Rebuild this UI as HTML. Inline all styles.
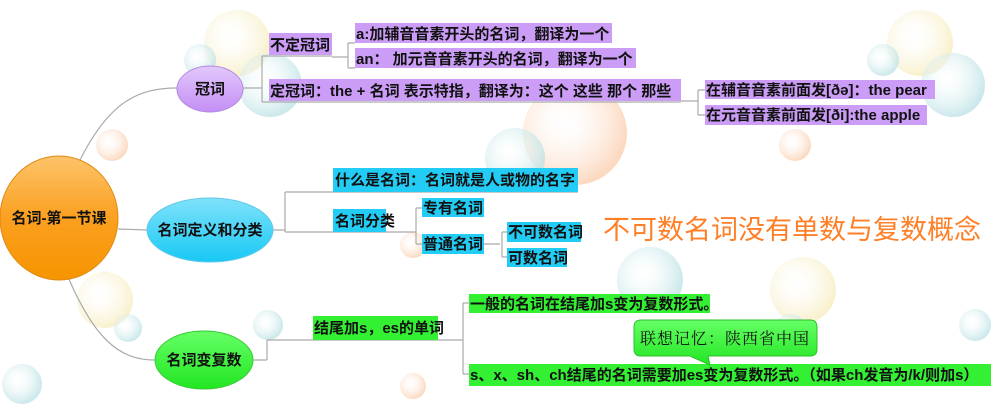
<!DOCTYPE html>
<html><head><meta charset="utf-8"><style>
html,body{margin:0;background:#fff;width:991px;height:404px;overflow:hidden}
svg{display:block;overflow:hidden}
svg text{font-family:"Liberation Sans","Noto Sans CJK SC",sans-serif;font-size:15px;font-weight:bold;fill:#111}
</style></head><body>
<svg width="991" height="404" viewBox="0 0 991 404" xmlns="http://www.w3.org/2000/svg">
<defs>
<radialGradient id="bb" cx="0.4" cy="0.4" r="0.6"><stop offset="0" stop-color="#fff" stop-opacity="0.2"/><stop offset="1" stop-color="#bfe3e6" stop-opacity="0.8"/></radialGradient>
<radialGradient id="by" cx="0.4" cy="0.4" r="0.6"><stop offset="0" stop-color="#fff" stop-opacity="0.2"/><stop offset="1" stop-color="#f8efc8" stop-opacity="0.9"/></radialGradient>
<radialGradient id="bo" cx="0.4" cy="0.4" r="0.6"><stop offset="0" stop-color="#fff" stop-opacity="0.2"/><stop offset="1" stop-color="#fbd6bb" stop-opacity="0.9"/></radialGradient>
<linearGradient id="gor" x1="0" y1="0" x2="0" y2="1"><stop offset="0" stop-color="#fcc46a"/><stop offset="0.5" stop-color="#fba020"/><stop offset="1" stop-color="#f69500"/></linearGradient>
<linearGradient id="gpu" x1="0" y1="0" x2="0" y2="1"><stop offset="0" stop-color="#e2c8fb"/><stop offset="1" stop-color="#c48ef5"/></linearGradient>
<linearGradient id="gbl" x1="0" y1="0" x2="0" y2="1"><stop offset="0" stop-color="#7fe2fb"/><stop offset="1" stop-color="#18c8f4"/></linearGradient>
<linearGradient id="ggr" x1="0" y1="0" x2="0" y2="1"><stop offset="0" stop-color="#66ff66"/><stop offset="1" stop-color="#22e622"/></linearGradient>
</defs>
<circle cx="237" cy="43" r="33" fill="url(#by)"/>
<circle cx="200" cy="60" r="16" fill="url(#bb)"/>
<circle cx="270" cy="85" r="32" fill="url(#bb)"/>
<circle cx="112" cy="145" r="16" fill="url(#bo)"/>
<circle cx="575" cy="133" r="52" fill="url(#bo)"/>
<circle cx="515" cy="158" r="30" fill="url(#bb)"/>
<circle cx="920" cy="43" r="33" fill="url(#by)"/>
<circle cx="883" cy="60" r="16" fill="url(#bb)"/>
<circle cx="953" cy="85" r="32" fill="url(#bb)"/>
<circle cx="795" cy="145" r="16" fill="url(#bo)"/>
<circle cx="650" cy="280" r="33" fill="url(#bb)"/>
<circle cx="803" cy="290" r="33" fill="url(#by)"/>
<circle cx="790" cy="330" r="16" fill="url(#bb)"/>
<circle cx="975" cy="325" r="16" fill="url(#bb)"/>
<circle cx="105" cy="300" r="28" fill="url(#by)"/>
<circle cx="128" cy="328" r="14" fill="url(#bb)"/>
<circle cx="268" cy="325" r="15" fill="url(#bb)"/>
<circle cx="413" cy="386" r="13" fill="url(#bo)"/>
<circle cx="413" cy="245" r="13" fill="url(#bo)"/>
<circle cx="22" cy="384" r="20" fill="url(#bb)"/>
<g fill="none" stroke="#aaa" stroke-width="1.2">
<path d="M80,160 C110,100 140,88 177,88"/>
<path d="M118,229 L147,230"/>
<path d="M68,277 C95,340 120,360 155,360"/>
<path d="M243,88 L262,88 M262,56 L262,102 M262,56 L332,56 M262,102 L681,102"/>
<path d="M332,57 L348,57 M348,43 L348,68 M348,43 L355,43 M348,68 L355,68"/>
<path d="M681,101 L698,101 M698,90 L698,115 M698,90 L705,90 M698,115 L705,115"/>
<path d="M272,230 L285,230 M285,192 L285,232 M285,192 L578,192 M285,232 L386,232"/>
<path d="M386,232 L416,232 M416,208 L416,244 M416,208 L422,208 M416,244 L422,244"/>
<path d="M484,244 L500,244 M502,232 L502,257 M502,232 L507,232 M502,257 L507,257"/>
<path d="M252,360 L267,360 M267,340 L267,360 M267,340 L438,340"/>
<path d="M438,340 L463,340 M463,303 L463,374 M463,303 L469,303 M463,374 L469,374"/>
</g>
<ellipse cx="59" cy="218" rx="59" ry="62" fill="url(#gor)" stroke="#e08a10"/>
<text x="59" y="223" text-anchor="middle">名词-第一节课</text>
<ellipse cx="210" cy="89" rx="33" ry="23" fill="url(#gpu)" stroke="#b489e0"/>
<text x="210" y="94" text-anchor="middle">冠词</text>
<ellipse cx="210" cy="230" rx="63" ry="32" fill="url(#gbl)" stroke="#60c8e8"/>
<text x="210" y="235" text-anchor="middle">名词定义和分类</text>
<ellipse cx="204" cy="360" rx="49" ry="29" fill="url(#ggr)" stroke="#33cc33"/>
<text x="204" y="365" text-anchor="middle">名词变复数</text>
<g fill="#cb9df6">
<rect x="269" y="33" width="63" height="22"/>
<rect x="355" y="23" width="257" height="20"/>
<rect x="355" y="48" width="281" height="20"/>
<rect x="269" y="79" width="412" height="22"/>
<rect x="705" y="80" width="230" height="19"/>
<rect x="705" y="105" width="222" height="20"/>
</g>
<text x="270" y="50">不定冠词</text>
<text x="356" y="39">a:加辅音音素开头的名词，翻译为一个</text>
<text x="356" y="64">an：&#160;加元音音素开头的名词，翻译为一个</text>
<text x="270" y="96">定冠词：the + 名词 表示特指，翻译为：这个 这些 那个 那些</text>
<text x="706" y="95">在辅音音素前面发[ðə]：the pear</text>
<text x="706" y="120">在元音音素前面发[ði]:the apple</text>
<g fill="#22ccf5">
<rect x="333" y="168" width="245" height="24"/>
<rect x="333" y="209" width="53" height="23"/>
<rect x="422" y="198" width="62" height="19"/>
<rect x="422" y="234" width="62" height="20"/>
<rect x="507" y="222" width="74" height="20"/>
<rect x="507" y="248" width="60" height="19"/>
</g>
<text x="335" y="185">什么是名词：名词就是人或物的名字</text>
<text x="335" y="226">名词分类</text>
<text x="423" y="213">专有名词</text>
<text x="423" y="249">普通名词</text>
<text x="508" y="237">不可数名词</text>
<text x="508" y="263">可数名词</text>
<g fill="#33f033">
<rect x="313" y="316" width="125" height="24"/>
<rect x="469" y="294" width="241" height="19"/>
<rect x="469" y="364" width="522" height="22"/>
</g>
<text x="314" y="333">结尾加s，es的单词</text>
<text x="470" y="309">一般的名词在结尾加s变为复数形式。</text>
<text x="470" y="380">s、x、sh、ch结尾的名词需要加es变为复数形式。（如果ch发音为/k/则加s）</text>
<path d="M641,320 H810 Q817,320 817,327 V349 Q817,356 810,356 H708 L710,365 L690,356 H641 Q634,356 634,349 V327 Q634,320 641,320 Z" fill="url(#ggr)" stroke="#2cc02c"/>
<text x="725" y="344" text-anchor="middle" style="font-size:16px;font-weight:normal;font-family:'Liberation Serif','Noto Serif CJK SC',serif;letter-spacing:1px">联想记忆：陕西省中国</text>
<text x="603" y="239" style="font-size:27px;font-weight:normal;fill:#ff7f27">不可数名词没有单数与复数概念</text>
</svg>
</body></html>
